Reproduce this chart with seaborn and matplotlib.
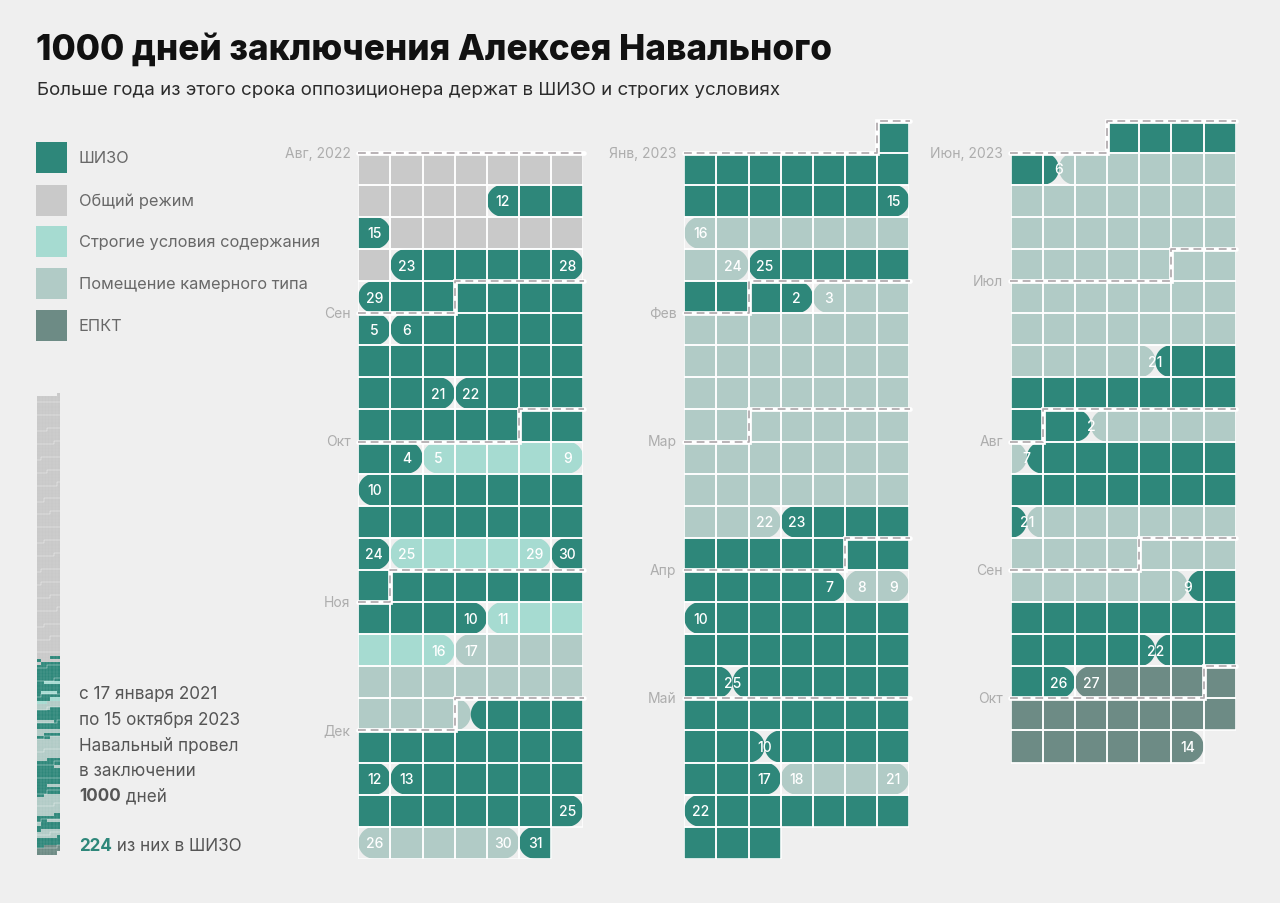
import datetime as dt
import numpy as np
import matplotlib
matplotlib.use('Agg')
import matplotlib.pyplot as plt
import seaborn as sns
from matplotlib.patches import Polygon, Rectangle
from matplotlib.colors import ListedColormap

# ---------------- data ----------------
state_names = ['ШИЗО', 'Общий режим', 'Строгие условия содержания',
               'Помещение камерного типа', 'ЕПКТ']
state_colors = ['#2e877a', '#c9c9c9', '#a6dbd1', '#b1cbc6', '#6d8b85']

# 0 = ШИЗО, 1 = общий режим, 2 = строгие условия, 3 = ПКТ, 4 = ЕПКТ
period_start = ['2021-01-17', '2022-08-12', '2022-08-16', '2022-08-23', '2022-08-29',
                '2022-09-06', '2022-09-22', '2022-10-05', '2022-10-10', '2022-10-25',
                '2022-10-30', '2022-11-11', '2022-11-17', '2022-12-01', '2022-12-13',
                '2022-12-26', '2022-12-31', '2023-01-16', '2023-01-25', '2023-02-03',
                '2023-03-23', '2023-04-08', '2023-04-10', '2023-04-25', '2023-05-10',
                '2023-05-18', '2023-05-22', '2023-06-06', '2023-07-21', '2023-08-02',
                '2023-08-07', '2023-08-21', '2023-09-09', '2023-09-22', '2023-09-27']
period_end = ['2022-08-11', '2022-08-15', '2022-08-22', '2022-08-28', '2022-09-05',
              '2022-09-21', '2022-10-04', '2022-10-09', '2022-10-24', '2022-10-29',
              '2022-11-10', '2022-11-16', '2022-12-01', '2022-12-12', '2022-12-25',
              '2022-12-30', '2023-01-15', '2023-01-24', '2023-02-02', '2023-03-22',
              '2023-04-07', '2023-04-09', '2023-04-25', '2023-05-10', '2023-05-17',
              '2023-05-21', '2023-06-06', '2023-07-21', '2023-08-02', '2023-08-07',
              '2023-08-21', '2023-09-09', '2023-09-22', '2023-09-26', '2023-10-14']
period_state = [1, 0, 1, 0, 0,
                0, 0, 2, 0, 2,
                0, 2, 3, 0, 0,
                3, 0, 3, 0, 3,
                0, 3, 0, 0, 0,
                3, 0, 3, 0, 3,
                0, 3, 0, 0, 4]
# periods that start / end in the middle of a day (shared day with neighbour)
start_half = [0, 0, 0, 0, 0,
              0, 0, 0, 0, 0,
              0, 0, 0, 1, 0,
              0, 0, 0, 0, 0,
              0, 0, 0, 1, 1,
              0, 0, 1, 1, 1,
              1, 1, 1, 1, 0]
end_half = [0, 0, 0, 0, 0,
            0, 0, 0, 0, 0,
            0, 0, 1, 0, 0,
            0, 0, 0, 0, 0,
            0, 0, 1, 1, 0,
            0, 1, 1, 1, 1,
            1, 1, 1, 0, 0]
label_skip = ['2022-12-01']

col_first_day = ['2022-08-01', '2023-01-01', '2023-06-01']
col_last_day = ['2022-12-31', '2023-05-31', '2023-10-14']
col_row_offset = [1, 0, 0]

month_first_day = ['2022-08-01', '2022-09-01', '2022-10-01', '2022-11-01', '2022-12-01',
                   '2023-01-01', '2023-02-01', '2023-03-01', '2023-04-01', '2023-05-01',
                   '2023-06-01', '2023-07-01', '2023-08-01', '2023-09-01', '2023-10-01']
month_names = ['Авг, 2022', 'Сен', 'Окт', 'Ноя', 'Дек',
               'Янв, 2023', 'Фев', 'Мар', 'Апр', 'Май',
               'Июн, 2023', 'Июл', 'Авг', 'Сен', 'Окт']

title_text = '1000 дней заключения Алексея Навального'
subtitle_text = 'Больше года из этого срока оппозиционера держат в ШИЗО и строгих условиях'
summary_lines = ['с 17 января 2021', 'по 15 октября 2023', 'Навальный провел', 'в заключении']
total_days = 1000
shizo_days = 224

# ---------------- style ----------------
BG = '#efefef'
sns.set_theme(style='white', rc={'figure.facecolor': BG, 'axes.facecolor': BG})
plt.rcParams['font.family'] = ['Inter', 'DejaVu Sans']

D = lambda s: dt.date.fromisoformat(s)
starts = [D(s) for s in period_start]
ends = [D(s) for s in period_end]

W, H = 1280, 904
fig = plt.figure(figsize=(W / 100, H / 100), dpi=100)
fig.patch.set_facecolor(BG)


def fx(px):
    return px / W


def fy(px):
    return 1 - px / H


def pill(ax, x0, x1, y, rl, rr, color):
    r = 0.5
    yc = y + 0.5
    pts = []
    if rl:
        th = np.linspace(np.pi / 2, 3 * np.pi / 2, 41)
        pts += list(zip(x0 + r + r * np.cos(th), yc + r * np.sin(th)))
    else:
        pts += [(x0, y + 1), (x0, y)]
    if rr:
        th = np.linspace(-np.pi / 2, np.pi / 2, 41)
        pts += list(zip(x1 - r + r * np.cos(th), yc + r * np.sin(th)))
    else:
        pts += [(x1, y), (x1, y + 1)]
    ax.add_patch(Polygon(pts, closed=True, fc=color, ec='none', lw=0, zorder=2))


# ---------------- main calendar columns ----------------
col_left_px = [358.3, 684.3, 1010.7]
top_px, cell_h = 121.5, 32.1
n_rows = 23
col_w_px = 225.0

for k in range(3):
    ax = fig.add_axes([fx(col_left_px[k]), fy(top_px + n_rows * cell_h),
                       fx(col_w_px), n_rows * cell_h / H])
    ax.set_xlim(0, 7)
    ax.set_ylim(n_rows, 0)
    ax.axis('off')
    ax.patch.set_alpha(0)
    first, last = D(col_first_day[k]), D(col_last_day[k])
    first_monday = first - dt.timedelta(days=first.weekday())

    def rc(d):
        return (d - first_monday).days // 7 + col_row_offset[k], d.weekday()

    # period pills
    for s0, e0, st, sh, eh in zip(starts, ends, period_state, start_half, end_half):
        s, e = max(s0, first), min(e0, last)
        if s > e:
            continue
        d = s
        while d <= e:
            row_end = min(e, d + dt.timedelta(days=6 - d.weekday()))
            row, c0 = rc(d)
            x0 = c0 + (0.5 if (d == s0 and sh) else 0)
            x1 = row_end.weekday() + 1 - (0.5 if (row_end == e0 and eh) else 0)
            pill(ax, x0, x1, row, d == s0 and st != 1, row_end == e0 and st != 1,
                 state_colors[st])
            d = row_end + dt.timedelta(days=1)

    # white cell grid
    d = first
    while d <= last:
        row, c = rc(d)
        ax.add_patch(Rectangle((c, row), 1, 1, fill=False, ec='white', lw=1.15, zorder=3))
        d += dt.timedelta(days=1)

    # date labels
    done = set()
    for s0, e0, st in zip(starts, ends, period_state):
        if st == 1:
            continue
        for d in (s0, e0):
            if d < first or d > last or d.isoformat() in label_skip or d in done:
                continue
            done.add(d)
            row, c = rc(d)
            ax.text(c + 0.5, row + 0.52, str(d.day), color='white', fontsize=10,
                    fontweight='medium', ha='center', va='center', zorder=7)

    # month separators
    for mname, mday in zip(month_names, month_first_day):
        m = D(mday)
        if m < first or m > last:
            continue
        row, w = rc(m)
        if w == 0:
            xs, ys = [-0.02, 7.02], [row, row]
        else:
            xs, ys = [-0.02, w, w, 7.02], [row + 1, row + 1, row, row]
        ax.plot(xs, ys, color='white', lw=3.4, zorder=5, solid_joinstyle='miter', clip_on=False)
        ax.plot(xs, ys, color='#b0a9ad', lw=1.25, ls=(0, (4.5, 2.8)), zorder=6, clip_on=False)
        ax.text(-0.24, ys[0], mname, ha='right', va='center', fontsize=10,
                color='#adadad', clip_on=False)

# ---------------- mini overview calendar ----------------
mini_first = D(period_start[0])
mini_last = D(period_end[-1])
mini_monday = mini_first - dt.timedelta(days=mini_first.weekday())
mini_rows = (mini_last - mini_monday).days // 7 + 1
grid = np.full((mini_rows, 7), np.nan)
for s0, e0, st, sh in zip(starts, ends, period_state, start_half):
    d = s0
    while d <= e0:
        if not (d == s0 and sh):
            grid[(d - mini_monday).days // 7, d.weekday()] = st
        d += dt.timedelta(days=1)

m_top, m_bot = 393.5, 855.5
ax_m = fig.add_axes([fx(37.3), fy(m_bot), fx(22.7), (m_bot - m_top) / H])
sns.heatmap(grid, ax=ax_m, cmap=ListedColormap(state_colors), vmin=-0.5, vmax=4.5,
            cbar=False, xticklabels=False, yticklabels=False, linewidths=0)
ax_m.set_facecolor(BG)
for spine in ax_m.spines.values():
    spine.set_visible(False)
# faint cell grid and month step lines in the overview
for c in range(1, 7):
    ax_m.axvline(c, color='white', lw=0.15, alpha=0.5, zorder=4)
for rr in range(1, mini_rows):
    ax_m.axhline(rr, color='white', lw=0.1, alpha=0.4, zorder=4)
m = D('2021-02-01')
while m <= mini_last:
    row, w = (m - mini_monday).days // 7, m.weekday()
    if w == 0:
        xs, ys = [0, 7], [row, row]
    else:
        xs, ys = [0, w, w, 7], [row + 1, row + 1, row, row]
    ax_m.plot(xs, ys, color='white', lw=0.3, alpha=0.8, zorder=5)
    m = dt.date(m.year + (m.month // 12), m.month % 12 + 1, 1)

# ---------------- texts and legend ----------------
ax_t = fig.add_axes([0, 0, 1, 1], zorder=-1)
ax_t.set_xlim(0, W)
ax_t.set_ylim(H, 0)
ax_t.axis('off')
ax_t.patch.set_alpha(0)

ax_t.text(36, 60, title_text, fontsize=25.3, fontweight='heavy', color='#111111',
          ha='left', va='baseline')
ax_t.text(37, 95, subtitle_text, fontsize=13.45, color='#2b2b2b', ha='left', va='baseline')

leg_y = [158.8, 201.2, 242.8, 284.5, 326.5]
for name, col, yc in zip(state_names, state_colors, leg_y):
    ax_t.add_patch(Rectangle((36, yc - 15.5), 31, 31, fc=col, ec='none'))
    ax_t.text(79, yc, name, fontsize=11.8, color='#686868', ha='left', va='center')

line_y = [695, 721, 747, 772]
for txt, yy in zip(summary_lines, line_y):
    ax_t.text(79, yy, txt, fontsize=12.3, color='#555555', ha='left', va='center')

renderer = fig.canvas.get_renderer()
t1 = ax_t.text(79, 797, str(total_days), fontsize=12.3, fontweight='bold',
               color='#555555', ha='left', va='center')
wpx = t1.get_window_extent(renderer).width
ax_t.text(79 + wpx, 797, ' дней', fontsize=12.3, color='#555555', ha='left', va='center')

t2 = ax_t.text(79, 847, str(shizo_days), fontsize=12.3, fontweight='bold',
               color=state_colors[0], ha='left', va='center')
wpx = t2.get_window_extent(renderer).width
ax_t.text(79 + wpx, 847, ' из них в ШИЗО', fontsize=12.3, color='#555555',
          ha='left', va='center')

fig.savefig('out.png', dpi=100, facecolor=BG)
